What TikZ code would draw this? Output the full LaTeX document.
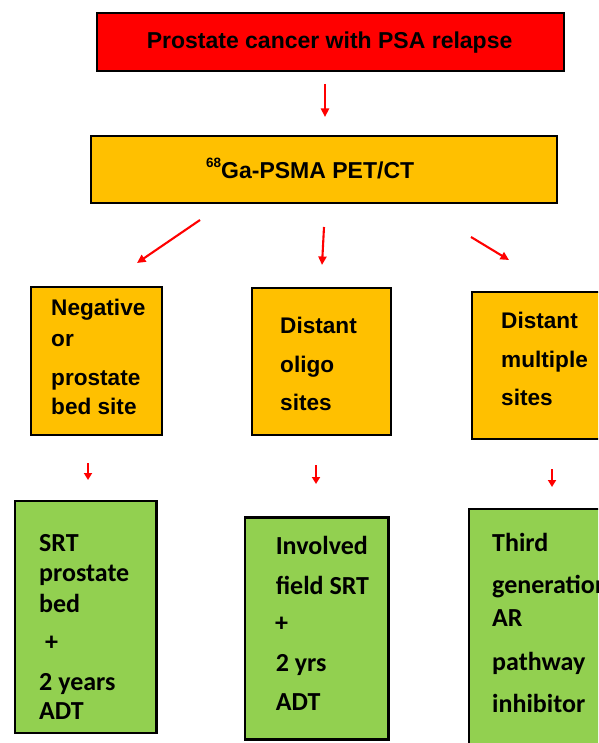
\documentclass[tikz,border=0pt]{standalone}
\usepackage{fontspec}
\setmainfont{Liberation Sans}
\newfontfamily\greenfont{Carlito}
\usetikzlibrary{arrows.meta}
\definecolor{boxred}{HTML}{FF0000}
\definecolor{boxorange}{HTML}{FFC000}
\definecolor{boxgreen}{HTML}{92D050}
\definecolor{arrowred}{HTML}{FF0000}
\begin{document}
\begin{tikzpicture}[x=1pt,y=-1pt,
  box/.style={draw=black, line width=2.4pt, inner sep=0pt, rectangle},
  headtext/.style={font=\fontsize{23}{27}\selectfont\bfseries, inner sep=0pt},
  sitetext/.style={font=\fontsize{22.6}{26}\selectfont\bfseries, inner sep=0pt, anchor=base west},
  therapytext/.style={font=\greenfont\fontsize{26}{30}\selectfont\bfseries, inner sep=0pt, anchor=base west},
  bigarrow/.style={draw=arrowred, line width=2.1pt, -{Triangle[length=8.5pt,width=8pt]}},
  smallarrow/.style={draw=arrowred, line width=2pt, -{Triangle[length=7pt,width=8pt]}}]
\clip (0,0) rectangle (598,743);
\fill[white] (0,0) rectangle (598,743);

% top of the flow
\node[box, fill=boxred, minimum width=467pt, minimum height=58pt] (relapse) at (330.5,42) {};
\node[headtext, anchor=base] (relapsetxt) at (329.6,48.3) {Prostate cancer with PSA relapse};

\node[box, fill=boxorange, minimum width=466pt, minimum height=67pt] (pet) at (324,169.5) {};
\node[headtext, anchor=base west] (pettxt) at (206,179)
  {\raisebox{11pt}{\fontsize{13.5}{14}\selectfont 68}Ga-PSMA PET/CT};

% imaging outcomes
\node[box, fill=boxorange, minimum width=131pt, minimum height=148pt] (neg) at (96.5,361) {};
\node[box, fill=boxorange, minimum width=139pt, minimum height=147pt] (oligo) at (321.5,361.5) {};
\node[box, fill=boxorange, minimum width=138pt, minimum height=147pt] (multi) at (541,365.5) {};

\node[sitetext] (neg1) at (51,315) {Negative};
\node[sitetext] (neg2) at (51,346) {or};
\node[sitetext] (neg3) at (51,385) {prostate};
\node[sitetext] (neg4) at (51,414) {bed site};

\node[sitetext] (oli1) at (280,333) {Distant};
\node[sitetext] (oli2) at (280,372) {oligo};
\node[sitetext] (oli3) at (280,410.5) {sites};

\node[sitetext] (mul1) at (501,328) {Distant};
\node[sitetext] (mul2) at (501,367) {multiple};
\node[sitetext] (mul3) at (501,405) {sites};

% treatments
\node[box, fill=boxgreen, minimum width=141.5pt, minimum height=232pt] (srt) at (85.75,616.7) {};
\node[box, fill=boxgreen, minimum width=143.5pt, minimum height=222pt] (ifsrt) at (316.75,628.5) {};
\node[box, fill=boxgreen, minimum width=143pt, minimum height=260pt] (arpi) at (540.5,639) {};

\node[therapytext] (srt1) at (39,551) {SRT};
\node[therapytext] (srt2) at (39,581) {prostate};
\node[therapytext] (srt3) at (39,612) {bed};
\node[therapytext, anchor=center] (srt4) at (51.5,643) {+};
\node[therapytext] (srt5) at (39,690) {2 years};
\node[therapytext] (srt6) at (39,719.3) {ADT};

\node[therapytext] (ifs1) at (275.6,554.3) {Involved};
\node[therapytext] (ifs2) at (275.6,594) {field SRT};
\node[therapytext, anchor=center] (ifs3) at (281.7,624) {+};
\node[therapytext] (ifs4) at (275.6,671.7) {2 yrs};
\node[therapytext] (ifs5) at (275.6,710.7) {ADT};

\node[therapytext] (arp1) at (492,551) {Third};
\node[therapytext] (arp2) at (492,593) {generation};
\node[therapytext] (arp3) at (492,626.7) {AR};
\node[therapytext] (arp4) at (492,670.7) {pathway};
\node[therapytext] (arp5) at (492,712.7) {inhibitor};

% arrow end points (the arrows float between the boxes)
\coordinate (a0s) at (325,84);   \coordinate (a0e) at (325,117);
\coordinate (aLs) at (200,220);  \coordinate (aLe) at (137,263);
\coordinate (aMs) at (324,227);  \coordinate (aMe) at (322,265);
\coordinate (aRs) at (471,237);  \coordinate (aRe) at (509,260);
\coordinate (b1s) at (88,463);   \coordinate (b1e) at (88,480);
\coordinate (b2s) at (316,465);  \coordinate (b2e) at (316,484);
\coordinate (b3s) at (552,469);  \coordinate (b3e) at (552,487);

\draw[bigarrow] (a0s) -- (a0e);
\draw[bigarrow] (aLs) -- (aLe);
\draw[bigarrow] (aMs) -- (aMe);
\draw[bigarrow] (aRs) -- (aRe);
\draw[smallarrow] (b1s) -- (b1e);
\draw[smallarrow] (b2s) -- (b2e);
\draw[smallarrow] (b3s) -- (b3e);
\end{tikzpicture}
\end{document}
